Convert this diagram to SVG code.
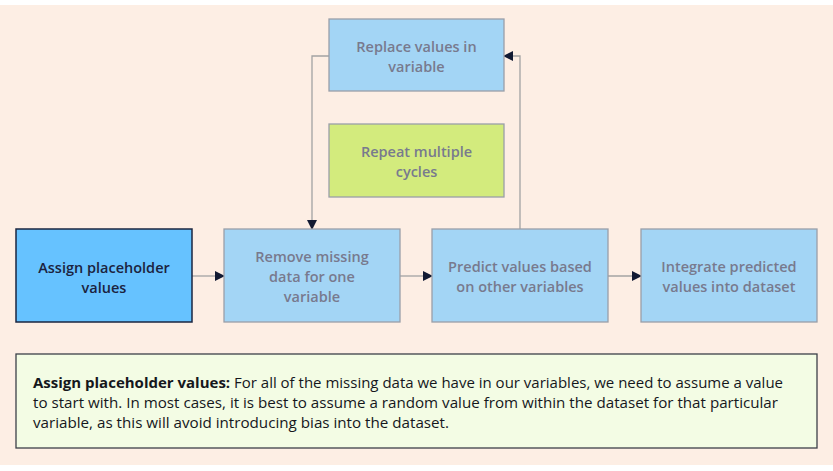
<svg xmlns="http://www.w3.org/2000/svg" width="833" height="471" viewBox="0 0 833 471">
<defs>
<style>
.bg{fill:#FDEEE4}
.node{fill:#A3D5F5;stroke:#9A9FA8;stroke-width:1.3}
.green{fill:#D3EB7D;stroke:#9A9FA8;stroke-width:1.3}
.start{fill:#66C2FF;stroke:#1B2640;stroke-width:1.5}
.note{fill:#F3FCE4;stroke:#3C4048;stroke-width:1.3}
.t{font-family:"Open Sans","Noto Sans",sans-serif;font-size:14.5px;font-weight:600;fill:#787A8E;text-anchor:middle}
.td{fill:#1B2340}
.nt{font-family:"Open Sans","Noto Sans",sans-serif;font-size:14.5px;fill:#15171c}
.b{font-weight:700}
.c{fill:none;stroke:#A3A3A3;stroke-width:1.3}
</style>
<marker id="ah" markerWidth="10" markerHeight="10" refX="9" refY="5" orient="auto" markerUnits="userSpaceOnUse">
<path d="M0,0 L10,5 L0,10 Z" fill="#121A33"/>
</marker>
</defs>
<rect x="0" y="5" width="833" height="460" class="bg"/>
<g id="connectors">
<path class="c" d="M192,276 H224" marker-end="url(#ah)"/>
<path class="c" d="M400,276 H432" marker-end="url(#ah)"/>
<path class="c" d="M608,276 H641" marker-end="url(#ah)"/>
<path class="c" d="M329,56 H312 V229" marker-end="url(#ah)"/>
<path class="c" d="M520,229 V56 H504" marker-end="url(#ah)"/>
</g>
<g id="replace">
<rect class="node" x="329" y="19" width="175" height="72"/>
<text class="t" x="416.5" y="52">Replace values in</text>
<text class="t" x="416.5" y="72">variable</text>
</g>
<g id="repeat">
<rect class="green" x="329" y="124" width="175" height="73"/>
<text class="t" x="416.5" y="157">Repeat multiple</text>
<text class="t" x="416.5" y="177">cycles</text>
</g>
<g id="assign">
<rect class="start" x="16" y="229" width="176" height="93"/>
<text class="t td" x="104" y="273">Assign placeholder</text>
<text class="t td" x="104" y="293">values</text>
</g>
<g id="remove">
<rect class="node" x="224" y="229" width="176" height="93"/>
<text class="t" x="312" y="262">Remove missing</text>
<text class="t" x="312" y="282">data for one</text>
<text class="t" x="312" y="302">variable</text>
</g>
<g id="predict">
<rect class="node" x="432" y="229" width="176" height="93"/>
<text class="t" x="520" y="272">Predict values based</text>
<text class="t" x="520" y="292">on other variables</text>
</g>
<g id="integrate">
<rect class="node" x="641" y="229" width="176" height="93"/>
<text class="t" x="729" y="272">Integrate predicted</text>
<text class="t" x="729" y="292">values into dataset</text>
</g>
<g id="note">
<rect class="note" x="16" y="354" width="801" height="94"/>
<text class="nt" x="33" y="388" textLength="750" lengthAdjust="spacingAndGlyphs"><tspan class="b">Assign placeholder values:</tspan> For all of the missing data we have in our variables, we need to assume a value</text>
<text class="nt" x="33" y="408" textLength="745" lengthAdjust="spacingAndGlyphs">to start with. In most cases, it is best to assume a random value from within the dataset for that particular</text>
<text class="nt" x="33" y="428" textLength="416" lengthAdjust="spacingAndGlyphs">variable, as this will avoid introducing bias into the dataset.</text>
</g>
</svg>
